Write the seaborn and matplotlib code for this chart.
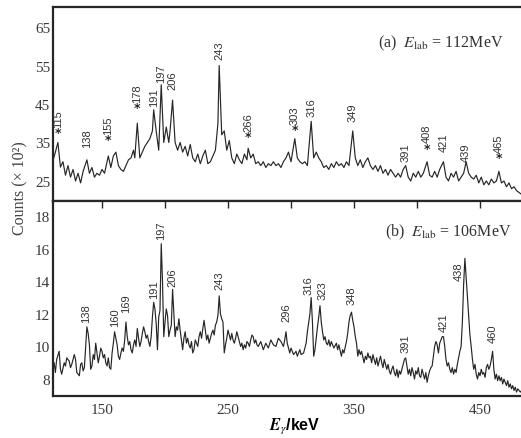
import matplotlib
matplotlib.use("Agg")
import matplotlib.pyplot as plt
import numpy as np
import pandas as pd
import seaborn as sns
from matplotlib.ticker import MultipleLocator

# ---------------- data ----------------
# panel (a) E_lab = 112 MeV : gamma energy (keV) and counts (x10^2)
energy_a = [111, 113, 115, 117, 119, 121, 123, 125, 127, 129,
            131, 133, 135, 137, 138, 140, 142, 144, 146, 148,
            150, 152, 154, 155, 157, 159, 161, 163, 165, 167,
            169, 171, 173, 175, 176, 178, 180, 182, 184, 186,
            188, 190, 191, 193, 195, 197, 199, 201, 203, 204,
            206, 208, 210, 212, 214, 216, 218, 220, 222, 224,
            226, 228, 230, 232, 234, 236, 238, 240, 242, 243,
            245, 247, 249, 251, 253, 255, 257, 259, 261, 263,
            265, 266, 268, 270, 272, 274, 276, 278, 280, 282,
            284, 286, 288, 290, 292, 294, 296, 298, 300, 303,
            305, 307, 309, 311, 313, 316, 318, 320, 322, 324,
            326, 328, 330, 332, 334, 336, 338, 340, 342, 344,
            346, 349, 351, 353, 355, 357, 359, 361, 363, 365,
            367, 369, 371, 373, 375, 377, 379, 381, 383, 385,
            387, 389, 391, 393, 395, 397, 399, 401, 403, 405,
            408, 410, 412, 414, 416, 418, 421, 423, 425, 427,
            429, 431, 433, 435, 437, 439, 441, 443, 445, 447,
            449, 451, 453, 455, 457, 459, 461, 463, 465, 467,
            469, 471, 473, 475, 477, 479, 481, 483]
counts_a = [30.2, 32.5, 35.0, 28.6, 30.0, 26.5, 29.0, 26.0, 28.0, 25.0,
            27.0, 24.5, 27.5, 29.5, 30.5, 27.0, 28.5, 26.0, 27.0, 26.5,
            28.0, 27.0, 30.0, 31.5, 28.5, 31.5, 32.5, 29.0, 28.0, 27.5,
            29.0, 30.5, 31.0, 33.0, 31.0, 40.0, 31.0, 32.5, 34.0, 35.0,
            36.0, 38.0, 43.5, 38.0, 33.0, 50.0, 35.0, 39.0, 35.0, 38.0,
            46.0, 35.0, 33.0, 35.0, 32.5, 34.0, 31.5, 34.5, 31.0, 30.0,
            32.0, 29.5, 31.5, 33.0, 29.5, 30.0, 31.5, 33.0, 40.0, 55.0,
            37.0, 38.0, 33.0, 35.5, 31.0, 29.5, 32.0, 30.5, 29.5, 32.0,
            30.5, 33.5, 31.0, 32.0, 29.5, 30.0, 29.0, 30.0, 28.5, 29.5,
            29.0, 30.0, 29.0, 29.5, 28.5, 30.0, 31.0, 32.5, 30.0, 36.0,
            31.0, 30.0, 29.5, 30.0, 29.0, 40.5, 31.0, 32.5, 31.0, 30.0,
            28.5, 29.0, 28.0, 29.5, 28.5, 30.0, 29.0, 29.5, 28.5, 30.0,
            29.0, 38.0, 31.0, 29.0, 30.5, 28.5, 30.0, 31.0, 29.0, 28.0,
            29.0, 27.5, 29.0, 27.0, 28.0, 26.5, 28.0, 27.0, 26.0, 27.0,
            26.0, 28.0, 29.0, 26.0, 25.0, 27.0, 26.0, 27.5, 26.0, 27.0,
            30.0, 26.5, 26.0, 27.5, 26.0, 28.0, 30.0, 26.0, 25.0, 27.0,
            26.0, 27.5, 25.0, 26.0, 27.0, 30.0, 27.0, 26.0, 25.5, 26.5,
            24.5, 26.0, 24.0, 25.0, 24.0, 25.5, 24.5, 25.0, 27.5, 24.5,
            25.0, 23.5, 24.5, 23.0, 23.5, 22.5, 22.0, 21.5]

# panel (b) E_lab = 106 MeV
energy_b = [112, 113, 114, 116, 117, 118, 120, 121, 122, 124,
            125, 126, 128, 129, 130, 132, 133, 134, 135, 136,
            137, 138, 139, 140, 141, 142, 143, 144, 145, 146,
            147, 148, 149, 150, 151, 152, 153, 154, 155, 156,
            157, 158, 159, 160, 161, 162, 163, 164, 165, 166,
            167, 168, 169, 170, 171, 172, 173, 174, 175, 176,
            177, 178, 179, 180, 181, 182, 183, 184, 185, 186,
            187, 188, 189, 190, 191, 192, 193, 194, 195, 196,
            197, 198, 199, 200, 201, 202, 203, 204, 205, 206,
            207, 208, 209, 210, 211, 212, 213, 214, 215, 216,
            217, 218, 219, 220, 221, 222, 223, 224, 225, 226,
            227, 228, 229, 230, 231, 232, 233, 234, 235, 236,
            237, 238, 239, 240, 241, 242, 243, 244, 245, 246,
            247, 248, 249, 250, 251, 252, 253, 254, 255, 256,
            257, 258, 259, 260, 261, 262, 263, 264, 265, 266,
            267, 268, 269, 270, 271, 272, 273, 274, 276, 278,
            280, 282, 284, 286, 288, 290, 292, 294, 295, 296,
            297, 299, 300, 302, 304, 305, 307, 308, 310, 312,
            313, 315, 316, 317, 318, 319, 320, 321, 322, 323,
            324, 325, 326, 327, 328, 329, 330, 331, 332, 334,
            336, 337, 338, 340, 341, 342, 344, 345, 346, 347,
            348, 349, 350, 351, 352, 353, 354, 355, 356, 358,
            359, 360, 361, 362, 363, 364, 365, 366, 367, 368,
            369, 370, 371, 372, 373, 374, 375, 376, 377, 378,
            379, 380, 381, 382, 383, 384, 385, 386, 387, 388,
            389, 390, 391, 392, 393, 394, 395, 396, 397, 398,
            399, 400, 401, 402, 403, 404, 405, 406, 407, 408,
            409, 410, 411, 412, 413, 414, 415, 416, 417, 418,
            419, 420, 421, 422, 423, 424, 425, 426, 427, 428,
            429, 430, 431, 432, 433, 434, 435, 436, 437, 438,
            439, 440, 441, 442, 443, 444, 445, 446, 447, 448,
            449, 450, 451, 452, 453, 454, 455, 456, 457, 458,
            459, 460, 461, 462, 463, 464, 465, 466, 467, 468,
            469, 470, 471, 472, 473, 474, 475, 476, 477, 478,
            479, 480, 481, 482, 483]
counts_b = [9.0, 8.4, 9.2, 9.7, 8.6, 8.3, 9.0, 8.8, 9.3, 9.1,
            8.7, 8.9, 9.5, 9.2, 8.4, 8.2, 8.9, 9.0, 8.5, 8.7,
            10.0, 11.2, 10.8, 10.1, 8.6, 8.8, 9.5, 9.2, 10.2, 9.6,
            9.0, 9.4, 9.9, 9.7, 9.3, 9.5, 9.0, 8.8, 9.3, 8.7,
            8.6, 9.6, 10.2, 10.9, 10.5, 10.1, 9.4, 9.2, 9.6, 9.9,
            9.7, 10.4, 11.5, 10.6, 10.1, 10.3, 9.8, 9.6, 10.1, 10.4,
            10.0, 11.1, 10.5, 10.0, 10.3, 10.8, 11.2, 10.9, 10.5, 10.7,
            10.3, 10.0, 10.6, 11.8, 12.7, 12.3, 11.4, 9.8, 11.8, 12.2,
            16.3, 14.0, 10.6, 11.5, 12.3, 11.9, 10.6, 11.0, 11.3, 13.5,
            12.0, 10.6, 11.2, 11.0, 11.7, 11.0, 10.4, 9.8, 10.5, 10.9,
            10.2, 10.5, 10.1, 9.9, 10.3, 9.6, 9.8, 10.4, 10.2, 10.0,
            10.6, 10.9, 10.5, 11.1, 11.6, 11.0, 10.4, 10.7, 10.2, 10.5,
            10.8, 11.0, 10.7, 11.3, 11.5, 11.9, 13.1, 12.0, 11.7, 11.5,
            9.6, 10.1, 10.5, 11.0, 10.7, 10.4, 10.8, 10.4, 10.2, 10.5,
            10.9, 10.6, 10.3, 10.0, 10.2, 9.8, 10.1, 9.9, 10.3, 10.2,
            10.0, 10.4, 10.7, 10.6, 10.2, 10.4, 10.1, 10.0, 10.3, 9.8,
            10.2, 9.9, 10.4, 10.1, 10.0, 10.5, 10.3, 10.0, 10.4, 10.9,
            10.2, 9.6, 9.9, 9.5, 9.7, 9.4, 9.8, 9.5, 9.6, 10.2,
            10.9, 12.0, 13.0, 11.5, 9.4, 9.8, 10.5, 11.2, 11.8, 12.5,
            11.5, 10.9, 10.4, 10.6, 10.2, 10.1, 10.4, 10.0, 10.3, 9.9,
            10.2, 9.8, 10.1, 9.4, 9.8, 9.6, 10.3, 10.8, 11.5, 11.9,
            12.1, 11.6, 11.2, 10.6, 10.2, 9.4, 9.8, 9.5, 9.7, 9.0,
            9.4, 9.2, 9.6, 9.3, 9.4, 9.0, 9.5, 9.2, 8.9, 9.3,
            8.8, 9.1, 9.4, 9.0, 8.7, 9.2, 8.9, 8.6, 8.9, 8.5,
            8.3, 8.6, 8.8, 8.4, 8.2, 8.6, 8.1, 8.5, 8.3, 8.6,
            8.9, 9.2, 9.3, 8.8, 8.3, 8.6, 8.2, 8.7, 8.4, 8.0,
            8.5, 8.3, 8.7, 8.2, 8.1, 8.6, 8.3, 8.0, 8.4, 7.8,
            8.2, 8.5, 8.7, 8.8, 9.4, 10.0, 10.3, 10.1, 9.6, 10.2,
            10.4, 10.6, 10.6, 10.0, 9.2, 8.8, 9.0, 8.6, 8.4, 8.7,
            8.3, 8.6, 8.4, 8.9, 9.3, 9.7, 10.0, 11.5, 13.8, 15.4,
            14.2, 13.1, 11.8, 10.7, 10.0, 9.2, 8.6, 8.9, 8.3, 8.0,
            8.4, 8.2, 8.6, 8.3, 8.4, 8.1, 8.7, 8.9, 8.6, 8.8,
            9.2, 9.7, 8.6, 8.0, 8.3, 7.9, 8.2, 7.9, 8.1, 7.7,
            8.0, 7.8, 7.6, 7.9, 7.5, 7.7, 7.4, 7.6, 7.3, 7.5,
            7.2, 7.4, 7.3, 7.2, 7.3]

# peak labels
labels_a = ["115", "138", "155", "178", "191", "197", "206", "243", "266",
            "303", "316", "349", "391", "408", "421", "439", "465"]
label_x_a = [115, 138, 155, 178, 191, 197, 206, 243, 266,
             303, 316, 349, 391, 408, 421, 439, 465]
label_y_a = [39.0, 33.8, 37.2, 45.5, 44.5, 50.7, 49.0, 56.7, 38.0,
             39.8, 41.9, 40.6, 30.2, 35.0, 32.8, 30.2, 32.5]
starred_a = [1, 0, 1, 1, 0, 0, 0, 0, 1, 1, 0, 0, 0, 1, 0, 0, 1]

labels_b = ["138", "160", "169", "191", "197", "206", "243", "296", "316",
            "323", "348", "391", "421", "438", "460"]
label_x_b = [137, 160, 169, 191, 197, 206, 243, 296, 314,
             325, 348, 391, 421, 433, 460]
label_y_b = [11.5, 11.25, 12.1, 13.0, 16.6, 13.7, 13.5, 11.55, 13.2,
             12.9, 12.6, 9.65, 10.95, 14.1, 10.3]

yticks_a = [25, 35, 45, 55, 65]
yticks_b = [8, 10, 12, 14, 16, 18]
xticks = [150, 250, 350, 450]

assert len(energy_a) == len(counts_a)
assert len(energy_b) == len(counts_b)

# ---------------- style ----------------
sns.set_style("white")
plt.rcParams["font.family"] = ["Liberation Serif", "DejaVu Serif"]
plt.rcParams["mathtext.fontset"] = "stix"

ink = "#262626"
W, H = 5.21, 4.39
fig = plt.figure(figsize=(W, H), dpi=100)

def frac_x(px):
    return px / 521.0

def frac_y(py):
    return 1 - py / 439.0

left = frac_x(53)
width = frac_x(526) - left
ax1 = fig.add_axes([left, frac_y(202), width, frac_y(8) - frac_y(202)])
ax2 = fig.add_axes([left, frac_y(397), width, frac_y(202) - frac_y(397)])

df_a = pd.DataFrame({"E": energy_a, "C": counts_a})
df_b = pd.DataFrame({"E": energy_b, "C": counts_b})
sns.lineplot(data=df_a, x="E", y="C", ax=ax1, color=ink, lw=0.85,
             estimator=None, sort=False)
sns.lineplot(data=df_b, x="E", y="C", ax=ax2, color=ink, lw=0.85,
             estimator=None, sort=False)

ax1.set_ylim(19.8, 70.2)
ax2.set_ylim(6.96, 18.92)
for ax in (ax1, ax2):
    ax.set_xlim(111.1, 486.5)
    ax.set_xlabel("")
    ax.set_ylabel("")
    for s in ax.spines.values():
        s.set_linewidth(1.6)
        s.set_color(ink)
    ax.xaxis.set_major_locator(MultipleLocator(100))
    ax.xaxis.set_minor_locator(MultipleLocator(50))
    ax.tick_params(axis="both", which="both", direction="in", color=ink,
                   width=1.0, labelcolor="#3a3a3a", labelsize=11)
    ax.tick_params(axis="both", which="major", length=5)
    ax.tick_params(axis="y", which="minor", length=3.5)
    ax.tick_params(axis="x", which="minor", length=5)
    ax.tick_params(axis="y", pad=2)
    ax.tick_params(axis="x", pad=5)

ax1.set_yticks(yticks_a)
ax1.yaxis.set_minor_locator(MultipleLocator(5))
ax1.set_xticks(xticks)
ax1.tick_params(axis="x", labelbottom=False)
ax2.set_yticks(yticks_b)
ax2.yaxis.set_minor_locator(MultipleLocator(1))
ax2.set_xticks(xticks)
ax2.tick_params(axis="x", top=True, which="both")

lab_font = dict(family=["Liberation Sans", "DejaVu Sans"], fontsize=8,
                color="#333333")
for t, x, y, st in zip(labels_a, label_x_a, label_y_a, starred_a):
    ax1.text(x, y, t, rotation=90, ha="center", va="bottom", **lab_font)
    if st:
        ax1.annotate("*", (x, y), xytext=(0, -4), textcoords="offset points",
                     ha="center", va="center", fontsize=9, color=ink,
                     fontweight="bold", family=["DejaVu Sans"])
for t, x, y in zip(labels_b, label_x_b, label_y_b):
    ax2.text(x, y, t, rotation=90, ha="center", va="bottom", **lab_font)

fig.text(frac_x(378), frac_y(43), r"(a)  $E_{\rm lab}$ = 112MeV",
         fontsize=11.5, ha="left", va="center", color="#333333")
fig.text(frac_x(385), frac_y(232), r"(b)  $E_{\rm lab}$ = 106MeV",
         fontsize=11.5, ha="left", va="center", color="#333333")

fig.text(frac_x(20), frac_y(188), "Counts (× 10²)", rotation=90,
         fontsize=11.5, ha="center", va="center", color="#444444")
fig.text(frac_x(295), frac_y(427), r"$\mathbfit{E}_{\gamma}$/keV",
         fontsize=11.5, ha="center", va="center", color="black",
         fontweight="bold", family=["Liberation Sans", "DejaVu Sans"])

fig.savefig("out.png", dpi=100, facecolor="white")
